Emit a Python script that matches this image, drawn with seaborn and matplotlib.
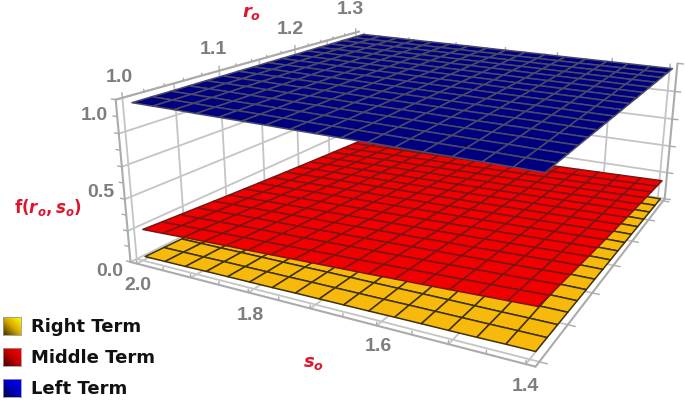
import numpy as np
import matplotlib
matplotlib.use("Agg")
import matplotlib.pyplot as plt
import seaborn as sns

# grid de la malla (16 celdas por lado)
r_mesh = np.linspace(1.0, 1.3, 17)
s_mesh = np.linspace(1.393, 1.995, 17)

# lecturas de cada superficie: a lo largo de s (r=1.0) y a lo largo de r (s=1.4)
left_on_s = [0.960, 0.961, 0.963, 0.964, 0.965, 0.966, 0.968, 0.969, 0.970, 0.971, 0.973, 0.974, 0.975, 0.976, 0.978, 0.979, 0.980]
left_on_r = [0.960, 0.961, 0.961, 0.962, 0.963, 0.963, 0.964, 0.964, 0.965, 0.966, 0.966, 0.967, 0.968, 0.968, 0.969, 0.969, 0.970]
middle_on_s = [0.290, 0.284, 0.278, 0.272, 0.266, 0.261, 0.255, 0.250, 0.245, 0.240, 0.235, 0.230, 0.226, 0.221, 0.216, 0.210, 0.205]
middle_on_r = [0.290, 0.279, 0.269, 0.259, 0.249, 0.239, 0.230, 0.221, 0.212, 0.204, 0.196, 0.188, 0.180, 0.173, 0.165, 0.158, 0.150]
right_on_s = [0.050, 0.049, 0.047, 0.046, 0.045, 0.044, 0.042, 0.041, 0.040, 0.039, 0.037, 0.036, 0.035, 0.034, 0.032, 0.031, 0.030]
right_on_r = [0.050, 0.048, 0.045, 0.043, 0.040, 0.038, 0.036, 0.033, 0.031, 0.029, 0.026, 0.024, 0.021, 0.019, 0.017, 0.014, 0.012]

r_ticks = [1.0, 1.1, 1.2, 1.3]
s_ticks = [2.0, 1.8, 1.6, 1.4]
z_ticks = [1.0, 0.5, 0.0]
terms = ["Right Term", "Middle Term", "Left Term"]

W, H = 685, 402
r_lim = (0.994, 1.306)
s_lim = (1.388, 2.012)
z_lim = (0.0, 1.0)
GRID = "#c4c4c4"
EDGE = "#ababab"
TICK = "#7d7d7d"
LABEL = "#e0142c"

sns.set_theme(style="white")
plt.rcParams["font.family"] = ["Liberation Sans", "DejaVu Sans"]
plt.rcParams["mathtext.fontset"] = "custom"
plt.rcParams["mathtext.it"] = "DejaVu Sans:italic:bold"
plt.rcParams["mathtext.rm"] = "DejaVu Sans:bold"

colors = sns.color_palette(["#f6b90c", "#f00000", "#00007e"])
mesh_colors = ["#3f3208", "#7c1414", "#4a4a68"]

fig = plt.figure(figsize=(W / 100, H / 100), dpi=100)
S, cx, cy = 577.0, 416.45, 164.14
ax = fig.add_axes([(cx - S / 2) / W, (H - cy - S / 2) / H, S / W, S / H], projection="3d", computed_zorder=False)
ax.set_proj_type("persp", focal_length=0.2935)
ax.view_init(elev=17.25, azim=206.83, roll=-0.666)
ax.set_box_aspect((2.679, 2.574, 1.0))
ax.set_xlim(*r_lim)
ax.set_ylim(*s_lim)
ax.set_zlim(*z_lim)
ax.set_axis_off()


def seg(p, q, color=GRID, lw=1.3, z=1):
    ax.plot([p[0], q[0]], [p[1], q[1]], [p[2], q[2]], color=color, lw=lw, zorder=z, clip_on=False)


# lineas de rejilla de piso y paredes
r0, r1 = r_lim
s0, s1 = s_lim
z0, z1 = z_lim
for r in np.arange(1.0, 1.31, 0.05):
    seg((r, s0, z0), (r, s1, z0))
    seg((r, s1, z0), (r, s1, z1))
for s in np.arange(1.4, 2.01, 0.1):
    seg((r0, s, z0), (r1, s, z0))
    seg((r1, s, z0), (r1, s, 0.97))
for zv in np.arange(0, 1.01, 0.2):
    seg((r0, s1, zv), (r1, s1, zv))
    if zv < 0.9:
        seg((r1, s0, zv), (r1, s1, zv))

# aristas de la caja
for p, q in [((r0, s1, z0), (r0, s0, z0)), ((r0, s0, z0), (r1, s0, z0)),
             ((r0, s1, z0), (r0, s1, z1)), ((r1, s0, z0), (r1, s0, z1)),
             ((r0, s1, z1), (r1, s1, z1))]:
    seg(p, q, color=EDGE, lw=1.5, z=2)

# marcas de los ejes
for r in np.arange(1.0, 1.301, 0.02):
    h = 0.03 if abs(r * 10 - round(r * 10)) < 1e-6 else 0.015
    seg((r, s1, z1), (r, s1, z1 + h), color=EDGE, lw=1.0, z=2)
for r in np.arange(1.0, 1.301, 0.05):
    seg((r, s0, z0), (r, s0 - 0.01, z0), color=EDGE, lw=1.0, z=2)
for s in np.arange(1.4, 2.001, 0.05):
    seg((r0, s, z0), (r0, s, z0 + 0.02), color=EDGE, lw=1.0, z=2)
for s in np.arange(1.4, 2.001, 0.1):
    seg((r1, s, 0.97), (r1, s, 0.99), color=EDGE, lw=1.0, z=2)
for zv in np.arange(0, 1.01, 0.1):
    seg((r0, s1, zv), (r0, s1 + 0.008, zv), color=EDGE, lw=1.0, z=2)
for zv in np.arange(0, 1.01, 0.2):
    seg((r1, s0, zv), (r1, s0 - 0.01, zv), color=EDGE, lw=1.0, z=2)

# superficies
R, Sg = np.meshgrid(r_mesh, s_mesh)
profiles = [(right_on_s, right_on_r), (middle_on_s, middle_on_r), (left_on_s, left_on_r)]
for i, (on_s, on_r) in enumerate(profiles):
    Z = np.outer(on_s, on_r) / on_s[0]
    surf = ax.plot_surface(R, Sg, Z, rstride=1, cstride=1, color=colors[i], edgecolor=mesh_colors[i],
                           linewidth=1.1, shade=False, antialiased=True, zorder=5 + i)
    surf.set_clip_on(False)


def px_text(x, y, txt, **kw):
    fig.text(x / W, 1 - y / H, txt, ha="center", va="center", **kw)


# etiquetas de ticks
for t, (x, y) in zip(r_ticks, [(119, 78), (213, 50), (290, 29), (350, 10)]):
    px_text(x, y, f"{t:.1f}", color=TICK, fontsize=14, fontweight="bold")
for t, (x, y) in zip(s_ticks, [(138, 286), (250, 316), (378, 347), (525, 387)]):
    px_text(x, y, f"{t:.1f}", color=TICK, fontsize=14, fontweight="bold")
for t, (x, y) in zip(z_ticks, [(94, 115), (101, 193), (110, 272)]):
    px_text(x, y, f"{t:.1f}", color=TICK, fontsize=14, fontweight="bold")

# nombres de los ejes
px_text(252, 13, r"$r_o$", color=LABEL, fontsize=13)
px_text(313, 363, r"$s_o$", color=LABEL, fontsize=13)
px_text(48, 208, r"$\mathrm{f}(r_o,s_o)$", color=LABEL, fontsize=12)

# leyenda con degradado
ramps = [["#3c3000", "#d8a800", "#ffff00"], ["#400000", "#c00000", "#ff0000"], ["#000040", "#0000c0", "#0000ff"]]
diag = np.add.outer(np.linspace(0, 1, 24), np.linspace(0, 1, 24)) / 2
for name, ramp, y0 in zip(terms, ramps, [318, 349, 380]):
    sw = fig.add_axes([3 / W, 1 - (y0 + 18) / H, 18 / W, 18 / H])
    sw.imshow(diag, cmap=sns.blend_palette(ramp, as_cmap=True), origin="lower", aspect="auto")
    sw.set_xticks([])
    sw.set_yticks([])
    for sp in sw.spines.values():
        sp.set_color("#999999")
        sp.set_linewidth(0.6)
    fig.text(31 / W, 1 - (y0 + 9) / H, name, ha="left", va="center", color="#111111",
             fontsize=13, fontweight="bold", family="DejaVu Sans")

fig.savefig("out.png", dpi=100)
